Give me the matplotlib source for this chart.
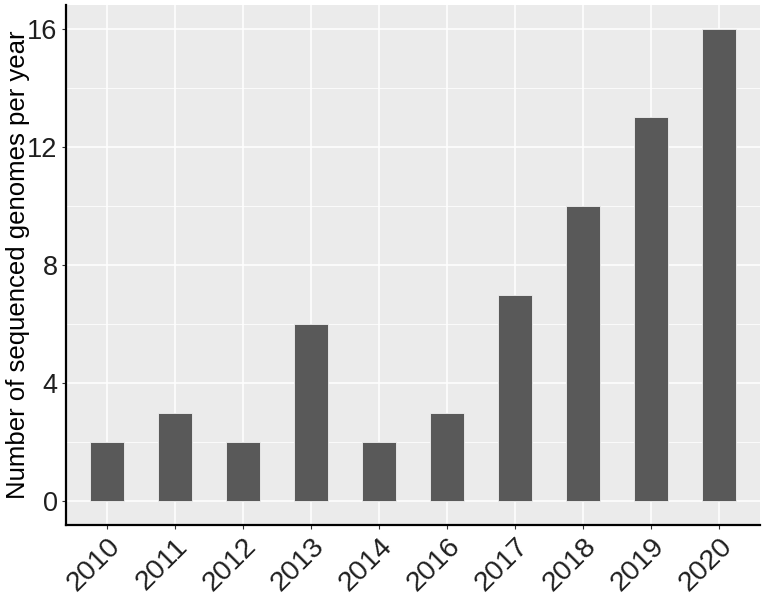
import matplotlib
matplotlib.use("Agg")
import matplotlib.pyplot as plt
import numpy as np

years = ["2010", "2011", "2012", "2013", "2014", "2016", "2017", "2018", "2019", "2020"]
counts = [2, 3, 2, 6, 2, 3, 7, 10, 13, 16]
yticks = [0, 4, 8, 12, 16]
ylabel = "Number of sequenced genomes per year"

plt.rcParams['font.family'] = ['Liberation Sans', 'DejaVu Sans']

fig = plt.figure(figsize=(7.65, 5.97), dpi=100)
ax = fig.add_axes([66/765, 1-525/597, (760-66)/765, (525-5)/597])
ax.set_facecolor('#EBEBEB')

x = np.arange(len(years))
ax.bar(x, counts, width=0.5, color='#595959', edgecolor='#F0F0F0', linewidth=0.6, zorder=3)

ax.set_xlim(-0.6, len(years)-0.4)
ax.set_ylim(-0.8, 16.8)
ax.set_yticks(yticks)
ax.set_yticks([2, 6, 10, 14], minor=True)
ax.set_xticks(x)
ax.set_xticklabels(years, rotation=45, ha='right', rotation_mode='anchor')

ax.grid(which='major', color='white', linewidth=1.1, zorder=0)
ax.grid(which='minor', axis='y', color='white', linewidth=0.55, zorder=0)
ax.set_axisbelow(True)

for s in ['top', 'right']:
    ax.spines[s].set_visible(False)
for s in ['left', 'bottom']:
    ax.spines[s].set_color('black')
    ax.spines[s].set_linewidth(1.6)

ax.tick_params(which='major', length=3, width=0.8, color='#333333', labelsize=19.5, labelcolor='#1f1f1f', pad=3)
ax.tick_params(axis='x', labelsize=20.5)
ax.tick_params(which='minor', length=0)
ax.set_ylabel(ylabel, fontsize=18.5, color='black')
ax.yaxis.set_label_coords((30 - 66) / 694, 0.5)

fig.savefig("out.png", dpi=100)
